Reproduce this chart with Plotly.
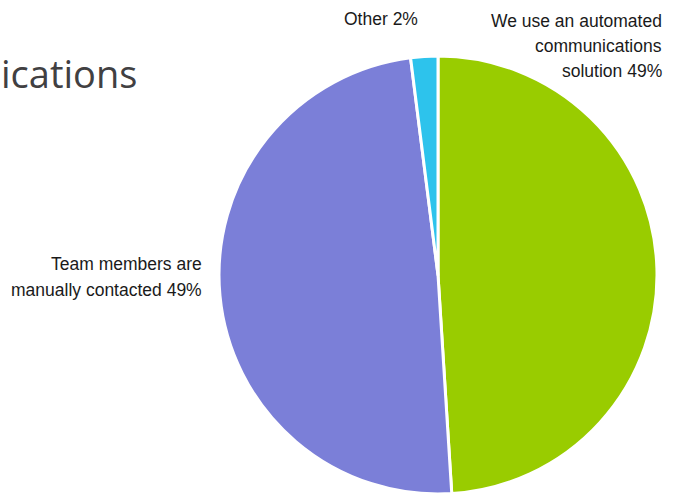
import plotly.graph_objects as go

# Survey responses: how team members are contacted
categories = [
    "We use an automated communications solution",
    "Team members are manually contacted",
    "Other",
]
shares = [49, 49, 2]
slice_colors = ["#99CC00", "#7B7FD8", "#2DC3EC"]

W, H = 683, 495

fig = go.Figure(
    go.Pie(
        labels=categories,
        values=shares,
        sort=False,
        direction="clockwise",
        rotation=0,
        marker=dict(colors=slice_colors, line=dict(color="white", width=3)),
        textinfo="none",
        hoverinfo="label+percent",
        showlegend=False,
        domain=dict(x=[219 / W, 657 / W], y=[1 / H, 439 / H]),
    )
)

# How each category label is wrapped
label_wrap = {
    "We use an automated communications solution": ["We use an automated", "communications", "solution"],
    "Team members are manually contacted": ["Team members are", "manually contacted"],
    "Other": ["Other"],
}
# anchor x px, first-line centre y px, xanchor for each slice label
label_place = [
    (664, 20.5, "right"),
    (204, 264, "right"),
    (381, 19, "center"),
]
line_step = 25.5

label_font = dict(family="Liberation Sans, Arial", size=17.5, color="#1a1a1a")
for cat, val, (px, py, xa) in zip(categories, shares, label_place):
    lines = list(label_wrap[cat])
    lines[-1] = f"{lines[-1]} {val}%"
    for i, line in enumerate(lines):
        fig.add_annotation(
            text=line,
            x=px / W, y=1 - (py + i * line_step) / H, xref="paper", yref="paper",
            xanchor=xa, yanchor="middle",
            showarrow=False, font=label_font,
        )

# Heading fragment at the top left
fig.add_annotation(
    text="ications",
    x=-1 / W, y=1 - 73 / H, xref="paper", yref="paper",
    xanchor="left", yanchor="middle",
    showarrow=False,
    font=dict(family="Open Sans", size=38, color="#414042"),
)

fig.update_layout(
    width=W, height=H,
    margin=dict(l=0, r=0, t=0, b=0),
    paper_bgcolor="white", plot_bgcolor="white",
)

fig.write_html("out.html")
